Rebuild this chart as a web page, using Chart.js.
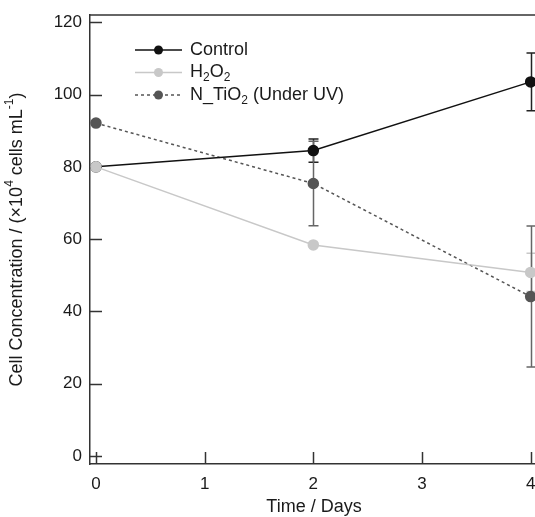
<!DOCTYPE html>
<html>
<head>
<meta charset="utf-8">
<script src="https://cdn.jsdelivr.net/npm/chart.js@4.4.0/dist/chart.umd.min.js"></script>
<style>
  html, body { margin: 0; padding: 0; background: #fff; }
  #wrap { width: 535px; height: 517px; position: relative; }
</style>
</head>
<body>
<div id="wrap"><canvas id="chart"></canvas></div>
<script>
// values
const days = [0, 2, 4];
const controlMean = [80, 84.5, 103.5];
const controlErr = [0, 3.2, 8];
const h2o2Mean = [80, 58.4, 50.8];
const h2o2Err = [0, 0, 5.3];
const ntio2Mean = [92.1, 75.4, 44.1];
const ntio2Err = [0, 11.7, 19.5];
const xTicks = [0, 1, 2, 3, 4];
const yTicks = [0, 20, 40, 60, 80, 100, 120];

const FONT = "'Liberation Sans', Arial, Helvetica, sans-serif";
const AXIS = "#333";

const pts = (ys) => days.map((d, i) => ({x: d, y: ys[i]}));

const series = [
    {label: "Control", parts: [["Control", 0]], mean: controlMean, err: controlErr,
     color: "#111111", errColor: "#222222", dash: []},
    {label: "H2O2", parts: [["H", 0], ["2", 1], ["O", 0], ["2", 1]], mean: h2o2Mean, err: h2o2Err,
     color: "#c8c8c8", errColor: "#c8c8c8", dash: []},
    {label: "N_TiO2 (Under UV)", parts: [["N_TiO", 0], ["2", 1], [" (Under UV)", 0]], mean: ntio2Mean, err: ntio2Err,
     color: "#555555", errColor: "#666666", dash: [3, 3]},
];
const drawOrder = [1, 0, 2];

// text with sub/superscripts, parts = [[text, 0 normal | 1 sub | 2 sup]]
function richWidth(ctx, parts, size) {
    let w = 0;
    parts.forEach(([t, k]) => {
        ctx.font = `${k ? Math.round(size * 0.68) : size}px ${FONT}`;
        w += ctx.measureText(t).width;
    });
    return w;
}
function richText(ctx, parts, x, y, size) {
    let cx = x;
    parts.forEach(([t, k]) => {
        const s = k ? Math.round(size * 0.68) : size;
        ctx.font = `${s}px ${FONT}`;
        const dy = k === 1 ? size * 0.3 : (k === 2 ? -size * 0.38 : 0);
        ctx.fillText(t, cx, y + dy);
        cx += ctx.measureText(t).width;
    });
}

const decorPlugin = {
    id: "decor",
    beforeDatasetsDraw(chart) {
        const {ctx, chartArea: a, scales: {x, y}} = chart;
        ctx.save();
        ctx.strokeStyle = AXIS;
        ctx.lineWidth = 1.5;
        // top frame line
        ctx.beginPath();
        ctx.moveTo(a.left, a.top);
        ctx.lineTo(chart.width, a.top);
        ctx.stroke();
        // inward ticks
        yTicks.forEach(v => {
            const py = Math.round(y.getPixelForValue(v)) + 0.5;
            ctx.beginPath();
            ctx.moveTo(a.left, py);
            ctx.lineTo(a.left + 12, py);
            ctx.stroke();
        });
        xTicks.forEach(v => {
            const px = Math.round(x.getPixelForValue(v)) + 0.5;
            ctx.beginPath();
            ctx.moveTo(px, a.bottom);
            ctx.lineTo(px, a.bottom - 12);
            ctx.stroke();
        });
        // error bars
        series.forEach(s => {
            ctx.strokeStyle = s.errColor;
            ctx.lineWidth = 1.5;
            days.forEach((d, i) => {
                if (!s.err[i]) return;
                const px = Math.round(x.getPixelForValue(d)) + 0.5;
                const hi = y.getPixelForValue(s.mean[i] + s.err[i]);
                const lo = y.getPixelForValue(s.mean[i] - s.err[i]);
                ctx.beginPath();
                ctx.moveTo(px, hi); ctx.lineTo(px, lo);
                ctx.moveTo(px - 5, hi); ctx.lineTo(px + 5, hi);
                ctx.moveTo(px - 5, lo); ctx.lineTo(px + 5, lo);
                ctx.stroke();
            });
        });
        ctx.restore();
    },
    afterDraw(chart) {
        const {ctx, chartArea: a} = chart;
        ctx.save();
        ctx.fillStyle = "#1a1a1a";
        ctx.textBaseline = "middle";
        // legend inside the plot
        series.forEach((s, i) => {
            const ly = 50 + i * 22.5;
            ctx.strokeStyle = s.color;
            ctx.lineWidth = 1.5;
            ctx.setLineDash(s.dash);
            ctx.beginPath();
            ctx.moveTo(135, ly); ctx.lineTo(182, ly);
            ctx.stroke();
            ctx.setLineDash([]);
            ctx.fillStyle = s.color;
            ctx.beginPath();
            ctx.arc(158.5, ly, 4.5, 0, Math.PI * 2);
            ctx.fill();
            ctx.fillStyle = "#1a1a1a";
            ctx.textAlign = "left";
            richText(ctx, s.parts, 190, ly, 18);
        });
        // y title
        const yParts = [["Cell Concentration / (\u00d710", 0], ["4", 2], [" cells mL", 0], ["-1", 2], [")", 0]];
        ctx.translate(17, (a.top + a.bottom) / 2);
        ctx.rotate(-Math.PI / 2);
        const w = richWidth(ctx, yParts, 18);
        richText(ctx, yParts, -w / 2, 0, 18);
        ctx.restore();
        ctx.save();
        ctx.fillStyle = "#1a1a1a";
        ctx.textBaseline = "middle";
        ctx.textAlign = "center";
        ctx.font = `18px ${FONT}`;
        ctx.fillText("Time / Days", 314, 507);
        ctx.restore();
    }
};

new Chart(document.getElementById("chart"), {
    type: "line",
    data: {
        datasets: series.map((s, i) => ({
            label: s.label,
            data: pts(s.mean),
            borderColor: s.color,
            backgroundColor: s.color,
            pointBackgroundColor: s.color,
            pointBorderColor: s.color,
            borderWidth: 1.5,
            borderDash: s.dash,
            pointRadius: 5,
            pointHoverRadius: 5,
            tension: 0,
            order: drawOrder[i],
            clip: false,
        })),
    },
    options: {
        responsive: true,
        maintainAspectRatio: false,
        animation: false,
        layout: {autoPadding: false, padding: {left: 0, right: 0, top: 15, bottom: 0}},
        plugins: {legend: {display: false}, tooltip: {enabled: false}},
        scales: {
            x: {
                type: "linear",
                min: -0.055,
                max: 4.04,
                afterBuildTicks: s => { s.ticks = xTicks.map(v => ({value: v})); },
                afterFit: s => { s.height = 53; s.paddingRight = 0; s.paddingLeft = 0; },
                grid: {display: false, drawTicks: false},
                border: {display: true, color: AXIS, width: 1.5},
                ticks: {color: "#1a1a1a", font: {family: FONT, size: 17}, padding: 10, maxRotation: 0},
            },
            y: {
                type: "linear",
                min: -2.2,
                max: 122,
                afterBuildTicks: s => { s.ticks = yTicks.map(v => ({value: v})); },
                afterFit: s => { s.width = 90; s.paddingTop = 0; s.paddingBottom = 0; },
                grid: {display: false, drawTicks: false},
                border: {display: true, color: AXIS, width: 1.5},
                ticks: {color: "#1a1a1a", font: {family: FONT, size: 17}, padding: 8},
            },
        },
    },
    plugins: [decorPlugin],
});
</script>
</body>
</html>
